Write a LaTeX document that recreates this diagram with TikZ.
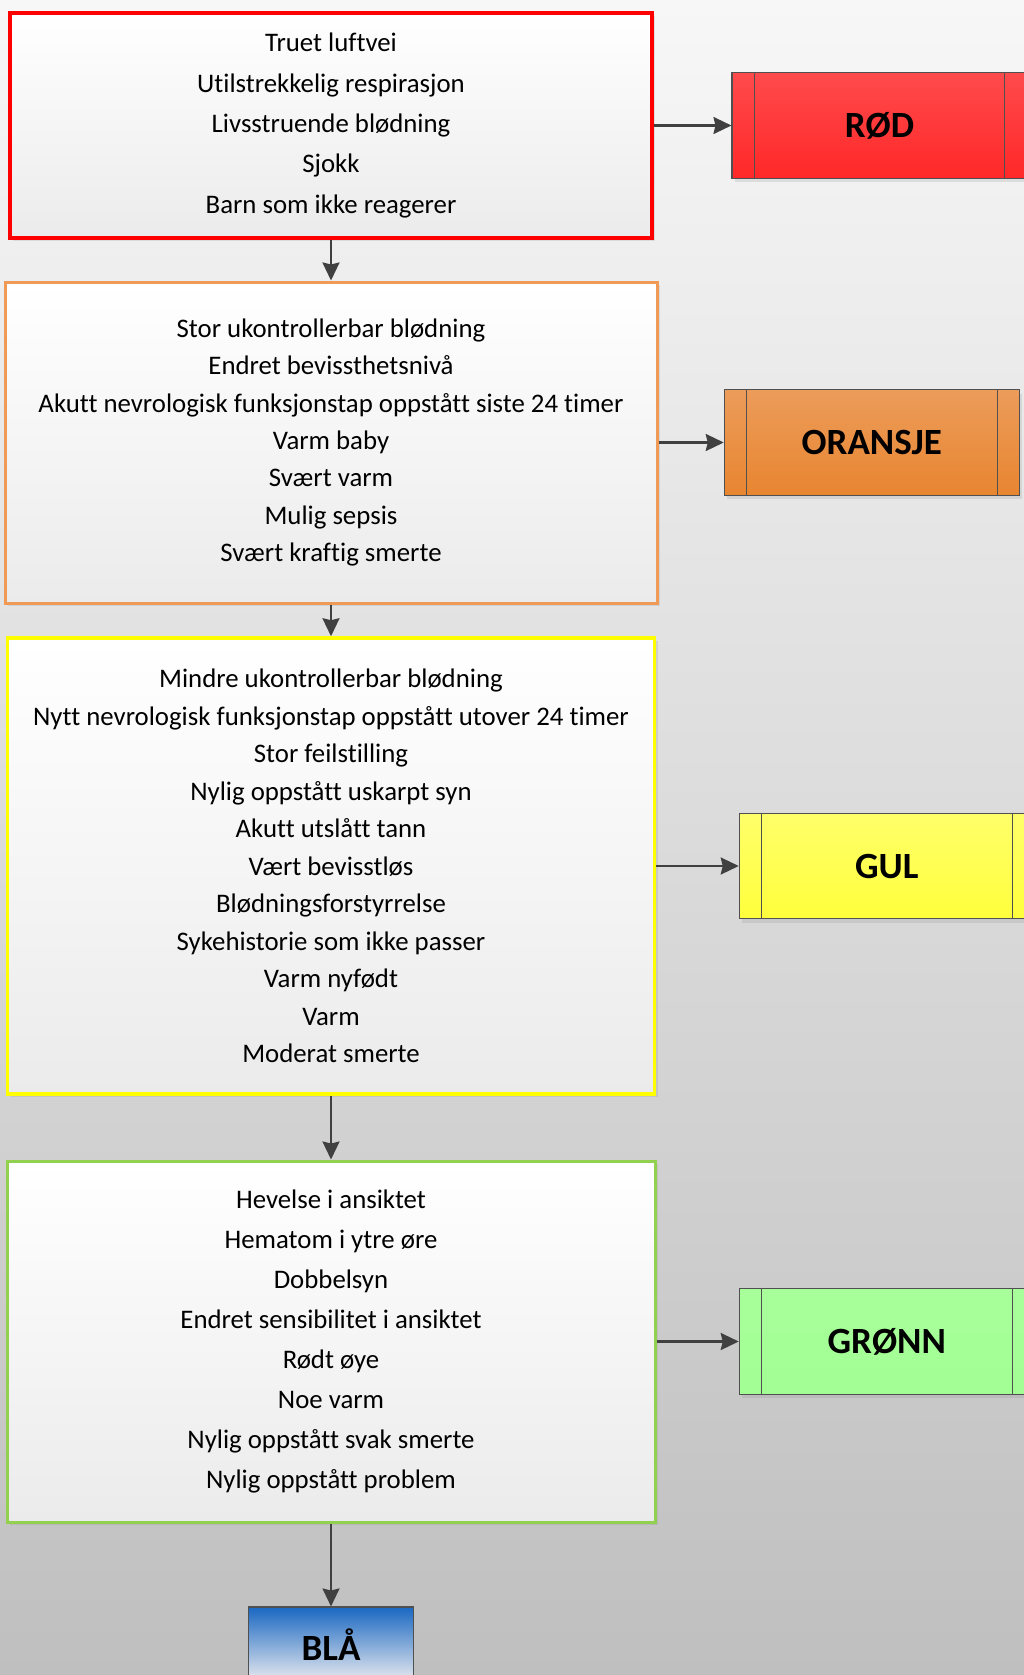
\documentclass[tikz,border=0pt]{standalone}
\usepackage{fontspec}
\setmainfont[Ligatures=NoCommon]{Carlito}
\usetikzlibrary{arrows.meta,shadows}

\definecolor{bgtop}{HTML}{F7F7F7}
\definecolor{bgbot}{HTML}{BFBFBF}
\definecolor{boxbot}{HTML}{EBEBEB}
\definecolor{redline}{HTML}{FF0000}
\definecolor{orangeline}{HTML}{F09A56}
\definecolor{yellowline}{HTML}{FFFF00}
\definecolor{greenline}{HTML}{92D050}
\definecolor{tagline}{HTML}{505050}
\definecolor{conncol}{HTML}{404040}
\definecolor{redtop}{HTML}{FF4A4C}
\definecolor{redbot}{HTML}{FF2828}
\definecolor{orangetop}{HTML}{EC9C5A}
\definecolor{orangebot}{HTML}{E88530}
\definecolor{yellowtop}{HTML}{FFFF6A}
\definecolor{yellowbot}{HTML}{FFFF3C}
\definecolor{greentop}{HTML}{A8FF9A}
\definecolor{greenbot}{HTML}{A2FF94}
\definecolor{bluetop}{HTML}{1A68C2}
\definecolor{bluemid}{HTML}{B4C2E2}
\definecolor{bluebot}{HTML}{EDEDF0}

\tikzset{
  listbox/.style={draw=#1, top color=white, bottom color=boxbot,
    align=center, inner sep=0pt,
    drop shadow={shadow xshift=3pt, shadow yshift=-3pt, opacity=0.18}},
  tagbox/.style={draw=tagline, line width=1.1pt, minimum width=295pt,
    minimum height=105.7pt, inner sep=0pt,
    font=\fontsize{37}{44}\selectfont\bfseries,
    drop shadow={shadow xshift=3pt, shadow yshift=-4pt, opacity=0.18}},
  conn/.style={draw=conncol, line width=2.2pt,
    -{Stealth[length=18pt,width=17pt,inset=2pt]}},
}

\begin{document}
\begin{tikzpicture}[x=1pt,y=-1pt]
  \useasboundingbox (0,0) rectangle (1024,1675);
  \clip (0,0) rectangle (1024,1675);
  \fill[top color=bgtop, bottom color=bgbot] (0,0) rectangle (1024,1675);

  % category boxes
  \node[listbox=redline, line width=4pt, minimum width=642pt, minimum height=225pt,
        font=\fontsize{26.8}{40.3}\selectfont] (red) at (331,125.5)
    {Truet luftvei\\Utilstrekkelig respirasjon\\Livsstruende blødning\\Sjokk\\Barn som ikke reagerer};

  \node[listbox=orangeline, line width=3pt, minimum width=652pt, minimum height=321pt,
        font=\fontsize{26.8}{37.4}\selectfont] (orange) at (331,442.5)
    {Stor ukontrollerbar blødning\\Endret bevissthetsnivå\\Akutt nevrologisk funksjonstap oppstått siste 24 timer\\Varm baby\\Svært varm\\Mulig sepsis\\Svært kraftig smerte};

  \node[listbox=yellowline, line width=3.5pt, minimum width=647pt, minimum height=456pt,
        font=\fontsize{26.8}{37.5}\selectfont] (yellow) at (331,866)
    {Mindre ukontrollerbar blødning\\Nytt nevrologisk funksjonstap oppstått utover 24 timer\\Stor feilstilling\\Nylig oppstått uskarpt syn\\Akutt utslått tann\\Vært bevisstløs\\Blødningsforstyrrelse\\Sykehistorie som ikke passer\\Varm nyfødt\\Varm\\Moderat smerte};

  \node[listbox=greenline, line width=3pt, minimum width=648pt, minimum height=361pt,
        font=\fontsize{26.8}{40}\selectfont] (green) at (331,1341.5)
    {Hevelse i ansiktet\\Hematom i ytre øre\\Dobbelsyn\\Endret sensibilitet i ansiktet\\Rødt øye\\Noe varm\\Nylig oppstått svak smerte\\Nylig oppstått problem};

  % priority tags
  \node[tagbox, top color=redtop, bottom color=redbot] (rod) at (879.5,125.5) {RØD};
  \node[tagbox, top color=orangetop, bottom color=orangebot] (oransje) at (871.8,442.5) {ORANSJE};
  \node[tagbox, top color=yellowtop, bottom color=yellowbot] (gul) at (886.8,866) {GUL};
  \node[tagbox, top color=greentop, bottom color=greenbot] (gronn) at (886.8,1341.5) {GRØNN};
  \node[draw=tagline, line width=1.1pt, minimum width=165pt, minimum height=76pt,
        inner sep=0pt, font=\fontsize{37}{44}\selectfont\bfseries,
        top color=bluetop, middle color=bluemid, bottom color=bluebot] (bla) at (331,1645) {BLÅ};

  % side bars inside the tags
  \foreach \t in {rod,oransje,gul,gronn}{
    \draw[tagline, line width=1.1pt] ([xshift=22.7pt]\t.north west) -- ([xshift=22.7pt]\t.south west);
    \draw[tagline, line width=1.1pt] ([xshift=-22.7pt]\t.north east) -- ([xshift=-22.7pt]\t.south east);
  }

  % connectors
  \draw[conn] (red.east) -- (rod.west);
  \draw[conn] (orange.east) -- (oransje.west);
  \draw[conn] (yellow.east) -- (gul.west);
  \draw[conn] (green.east) -- (gronn.west);
  \draw[conn] (red.south) -- (orange.north);
  \draw[conn] (orange.south) -- (yellow.north);
  \draw[conn] (yellow.south) -- (green.north);
  \draw[conn] (green.south) -- (bla.north);
\end{tikzpicture}
\end{document}
